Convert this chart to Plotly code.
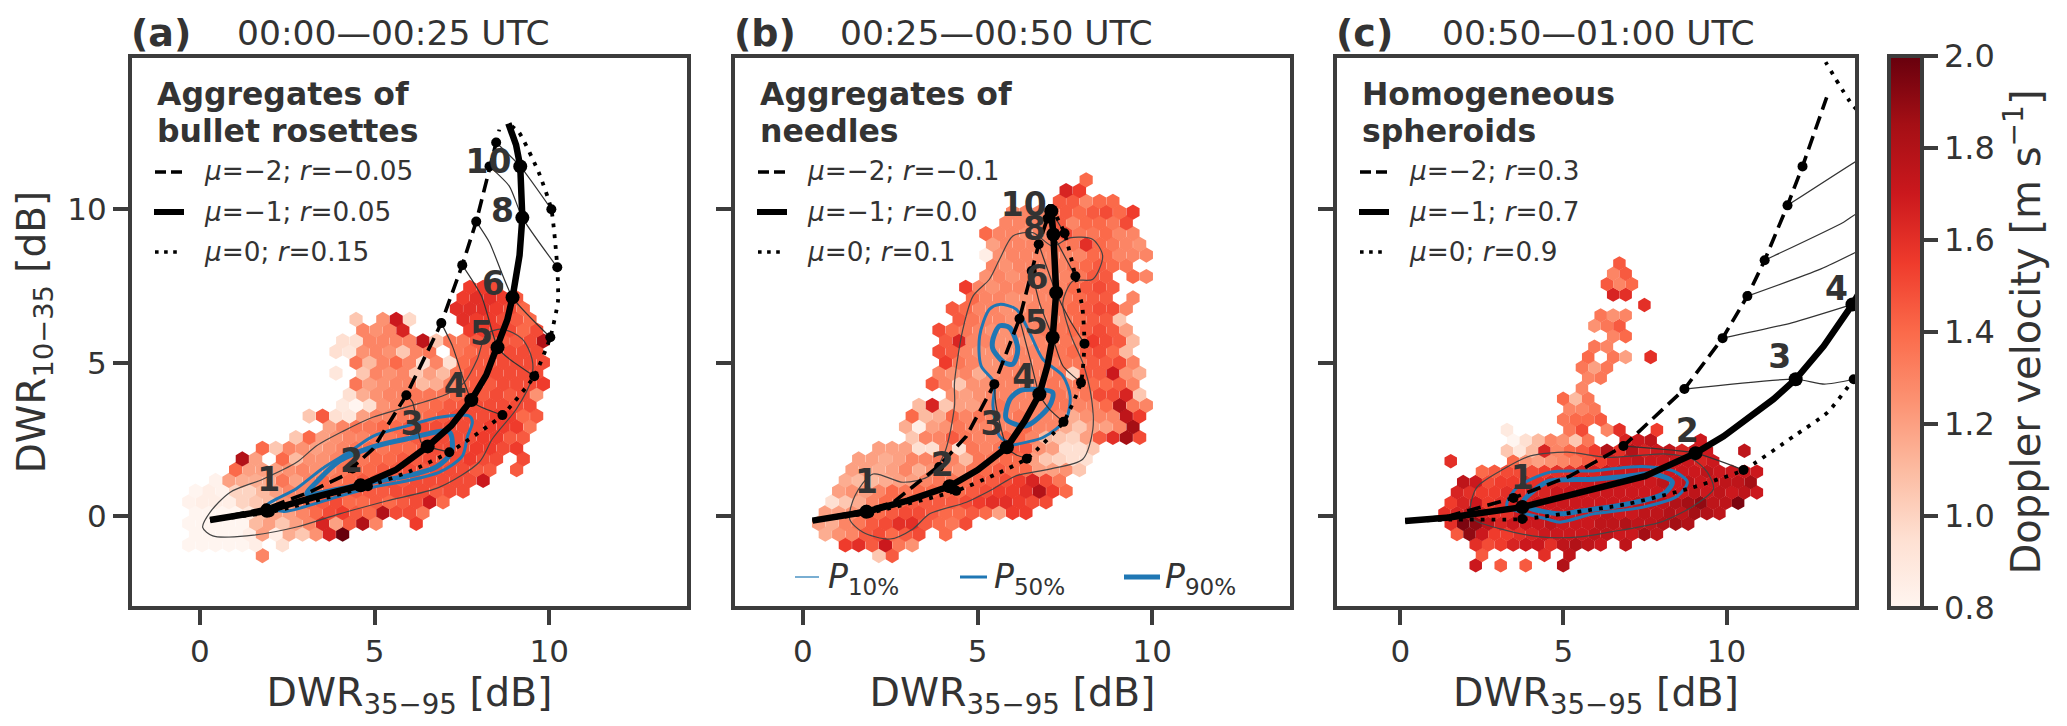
import plotly.graph_objects as go

N = None
COL_DX = 0.383
ROW_DY_AB = 0.35
ROW_DY_C = 0.3396

HEX_A = [
 (0,5,[1.3]),
 (1,0,[.8,.8,.8,.8,.8,.85,N,.95]),
 (2,0,[.8,.8,.8,.8,.85,1.2,.85,1.15,1.05,1.25,1.65,2.0]),
 (3,0,[.8,.8,.8,.8,.8,1.1,1.2,1.05,1.2,1.3,1.65,1.2,1.45,1.8,1.3,N,N,1.55]),
 (4,0,[.8,.8,.8,.8,.9,1.1,1.2,1.2,1.3,1.4,1.5,1.55,1.45,1.4,1.8,1.5,1.5,1.35]),
 (5,0,[.82,.85,.85,.85,1.0,1.05,1.1,1.25,1.3,1.4,1.45,1.5,1.4,1.4,1.45,1.4,1.45,1.5,1.7,1.4]),
 (6,0,[.8,.85,.82,1.0,1.0,1.1,1.2,1.3,1.3,1.35,1.4,1.4,1.45,1.45,1.45,1.5,1.5,1.5,1.45,1.5,1.5]),
 (7,2,[.82,1.2,1.15,1.15,1.15,1.35,1.2,1.3,1.4,1.35,1.4,1.45,1.45,1.5,1.45,1.5,1.5,1.5,1.5,1.5,1.7]),
 (8,3,[1.4,1.2,1.2,1.2,1.25,1.3,1.25,1.3,1.35,1.4,1.4,1.45,1.45,1.5,1.45,1.5,1.5,1.5,1.45,1.45,N,1.45]),
 (9,4,[1.8,1.2,N,1.4,1.1,1.25,1.25,1.3,1.35,1.35,1.4,1.4,1.45,1.45,1.5,1.45,1.5,1.55,1.5,1.5,N,1.5]),
 (10,5,[1.4,1.05,1.3,1.25,1.2,1.25,1.3,1.35,1.4,1.35,1.4,1.4,1.45,1.5,1.5,1.5,1.55,1.55,1.5,1.55]),
 (11,8,[1.05,1.4,1.2,1.25,1.3,1.3,1.35,1.35,1.4,1.45,1.45,1.5,1.5,1.5,1.55,1.55,1.45,1.45]),
 (12,10,[1.2,1.3,1.35,1.35,1.4,1.4,1.45,1.5,1.5,1.5,1.5,1.5,1.55,1.55,1.55,1.35]),
 (13,9,[1.05,1.45,.95,.9,1.2,1.3,1.3,1.35,1.35,1.4,1.45,1.5,1.5,1.5,1.55,1.55,1.4,1.45]),
 (14,11,[.88,.8,.95,1.25,1.3,1.35,1.35,1.4,1.45,1.45,1.5,1.5,1.5,1.5,1.5]),
 (15,12,[.95,1.15,1.25,1.3,1.3,1.35,1.35,1.35,1.4,1.45,1.45,1.5,1.45,1.5,1.25]),
 (16,12,[1.35,1.2,1.25,1.3,1.3,1.1,1.15,1.3,1.4,1.45,1.45,1.5,1.5,1.5,1.55]),
 (17,11,[.9,N,1.05,1.3,1.25,1.3,1.05,1.2,1.1,1.35,1.45,1.45,1.5,1.5,1.5,1.5]),
 (18,12,[1.35,1.1,1.3,1.4,1.3,.95,1.3,.95,1.4,1.45,1.45,1.5,1.5,1.5,1.5]),
 (19,11,[.95,.9,1.25,1.3,1.25,1.05,1.3,1.35,N,1.35,1.4,1.45,1.5,1.5,1.5,1.5]),
 (20,11,[.95,.95,1.3,1.3,1.3,1.3,1.75,1.05,1.35,1.35,1.45,1.45,1.45,1.45,1.5,1.8]),
 (21,13,[1.3,1.25,1.3,1.65,N,N,N,N,1.55,1.55,1.55,1.5,1.4,1.5]),
 (22,12,[1.05,N,1.25,1.7,.98,N,N,N,1.6,1.55,1.55,1.5,1.45,1.4]),
 (23,20,[1.6,1.6,1.6,1.55,1.5,1.4]),
 (24,20,[1.55,1.6,1.6,1.55,1.45]),
 (25,21,[1.55,1.55,1.5]),
]

HEX_B = [
 (0,6,[1.05,1.45]),
 (1,4,[1.55,1.6,1.45,1.7,1.35,1.25]),
 (2,2,[1.15,1.25,1.3,1.45,1.5,1.4,1.45,1.5,N,1.4]),
 (3,2,[1.2,1.15,1.3,1.35,1.45,1.5,1.6,1.6,1.45,1.4,1.35,1.5]),
 (4,2,[1.2,1.2,1.25,1.35,1.4,1.45,1.5,1.5,1.45,1.4,1.4,1.45,1.4,1.2,1.55,1.55]),
 (5,3,[.95,1.05,1.15,1.3,1.4,1.4,1.45,1.45,1.45,1.45,1.5,1.55,1.6,1.6,1.55,1.5,1.5]),
 (6,3,[1.2,1.25,1.2,1.3,1.4,1.35,1.4,1.4,1.4,1.4,1.45,1.5,1.55,1.55,1.6,1.8,1.55,1.4]),
 (7,4,[1.15,1.1,1.1,1.15,1.2,1.2,1.3,1.35,1.35,1.4,1.45,1.45,1.5,1.55,1.65,1.5,1.35]),
 (8,4,[1.2,1.2,1.15,1.2,1.3,1.15,1.25,1.3,1.25,1.35,1.4,1.45,1.4,1.4,1.2,1.2,1.25,1.05]),
 (9,5,[1.2,1.2,1.15,1.2,1.3,1.3,1.35,1.3,1.1,1.35,1.35,1.4,1.4,1.2,1.05,1.0,.95,.95]),
 (10,6,[1.2,1.2,1.2,.95,.95,1.3,.95,1.35,1.3,1.35,1.45,1.45,1.25,1.2,.95,.95,1.05]),
 (11,9,[1.05,1.3,1.3,1.45,1.35,1.3,1.3,1.4,1.4,1.3,1.1,1.05,1.0,1.2,1.45,1.6,1.85,1.5]),
 (12,8,[1.15,.85,1.2,1.25,1.35,1.3,1.3,1.3,1.3,1.4,1.3,1.3,1.15,1.05,1.2,1.2,1.3,1.85]),
 (13,9,[1.4,1.1,1.15,1.4,1.3,1.35,1.3,1.3,1.35,1.3,1.3,1.3,1.15,1.25,1.3,1.3,1.75,1.55]),
 (14,9,[1.1,1.65,1.05,1.2,1.2,1.3,1.35,1.3,1.3,1.3,1.35,1.35,1.3,1.3,1.4,1.8,1.35,1.3]),
 (15,12,[1.25,1.2,1.25,1.3,1.3,1.3,1.3,1.3,1.35,1.3,1.35,1.5,1.5,1.65,1.05]),
 (16,10,[1.45,1.3,1.05,1.25,1.25,1.3,1.3,1.3,1.3,1.35,1.3,1.35,1.4,1.4,1.45,1.3]),
 (17,11,[1.3,1.25,1.3,1.15,1.25,1.3,1.3,1.3,1.3,1.35,1.0,1.45,1.45,1.7,1.25,1.15]),
 (18,11,[1.55,1.35,1.3,1.25,1.25,1.3,1.3,1.3,1.3,1.35,1.35,1.45,1.45,1.5,1.3]),
 (19,11,[1.5,1.45,1.3,1.25,1.25,1.25,1.3,1.3,1.3,1.35,1.4,1.45,1.5,1.4,1.1]),
 (20,11,[1.45,1.65,1.3,1.3,1.25,1.25,1.25,1.3,1.3,1.35,1.35,1.55,1.5,1.45,1.1]),
 (21,11,[1.5,1.4,1.35,1.3,1.25,1.25,1.3,1.3,1.35,1.35,1.4,1.45,1.5,1.45,1.2]),
 (22,12,[1.45,1.35,1.3,1.3,1.25,1.3,1.3,1.3,1.35,1.4,1.45,1.45,1.05]),
 (23,12,[1.45,1.4,1.3,1.3,1.25,1.25,1.3,1.3,1.35,1.4,1.45,1.5,1.5,1.3]),
 (24,13,[1.4,1.3,1.3,1.25,1.25,1.3,1.3,1.35,1.4,1.45,1.45,N,1.3]),
 (25,13,[1.55,1.3,1.25,1.3,1.3,1.3,1.3,1.3,1.4,1.45,1.5,1.45]),
 (26,14,[1.25,1.3,1.25,1.3,1.3,1.3,1.3,1.35,1.45,1.45,N,1.4,1.3]),
 (27,15,[1.3,1.25,1.3,1.3,1.3,1.3,1.35,1.4,1.45,1.4,1.35]),
 (28,14,[.85,1.25,1.3,1.3,1.3,1.3,1.3,1.3,1.4,1.4,1.3,1.3,1.3]),
 (29,15,[1.2,1.3,1.3,1.3,1.3,1.35,1.35,1.6,1.4,1.35,1.3,1.25]),
 (30,14,[1.4,1.3,1.3,1.25,1.3,1.3,1.5,1.35,1.35,1.4,1.3,1.3]),
 (31,16,[1.3,1.3,1.3,1.35,1.45,1.3,1.4,1.4,1.35,1.5]),
 (32,16,[1.3,1.3,1.3,1.35,1.45,1.4,1.45,1.5,1.4,1.55]),
 (33,20,[1.45,1.45,1.3,1.4,1.4]),
 (34,20,[1.65,1.55]),
 (35,22,[1.4]),
]

HEX_C = [
 (-1,6,[1.7,N,1.45,N,1.45,N,N,1.8]),
 (0,6,[1.45,N,N,N,N,1.6,N,1.75]),
 (1,6,[1.6,1.5,1.55,1.65,1.7,1.7,1.6,1.75,1.8,1.75,1.7,N,1.75]),
 (2,4,[1.45,1.9,1.7,1.55,1.55,1.6,1.65,1.7,1.7,1.7,1.7,1.75,1.75,1.7,1.7,1.85,1.75]),
 (3,4,[1.6,1.95,1.9,1.75,1.65,1.7,1.7,1.7,1.75,1.7,1.7,1.7,1.75,1.75,1.8,1.75,1.75,1.8,1.85,1.8]),
 (4,3,[1.6,1.65,1.75,1.65,1.6,1.6,1.7,1.7,1.7,1.7,1.7,1.7,1.7,1.75,1.7,1.7,1.75,1.75,1.8,1.75,1.85,1.8,1.75]),
 (5,4,[1.55,1.65,1.7,1.55,1.6,1.65,1.65,1.7,1.7,1.7,1.7,1.7,1.7,1.7,1.7,1.75,1.75,1.75,1.8,1.85,1.9,1.75,1.75,1.95]),
 (6,4,[1.65,1.6,1.55,1.55,1.6,1.6,1.65,1.65,1.7,1.7,1.7,1.7,1.7,1.7,1.7,1.7,1.7,1.7,1.7,1.75,1.7,1.75,1.7,1.75,1.7]),
 (7,5,[1.75,1.7,1.5,1.55,1.55,1.6,1.6,1.65,1.65,1.7,1.7,1.7,1.7,1.7,1.7,1.7,1.75,1.7,1.75,1.7,1.7,1.75,1.75,1.85]),
 (8,6,[1.4,1.45,1.5,1.5,1.5,1.55,1.6,1.6,1.65,1.65,1.7,1.7,1.7,1.7,1.65,1.7,1.7,1.7,1.75,1.7,1.7,1.7,1.7]),
 (9,4,[1.6,N,N,N,N,1.4,1.25,1.2,1.25,1.3,1.35,1.45,1.55,1.65,1.7,1.75,1.7,1.7,1.7,1.7,1.65,1.7]),
 (10,8,[1.05,.9,1.1,1.65,1.3,1.4,1.45,1.55,1.8,1.6,1.8,1.65,1.7,1.75,1.65,1.7,1.7,N,N,1.75]),
 (11,9,[.8,.95,1.1,1.3,1.25,1.05,1.35,N,N,1.65,1.7,1.75,N,N,N,1.7]),
 (12,8,[.88,N,N,N,N,1.35,1.5,N,1.3,1.6,N,N,1.55]),
 (13,13,[1.35,1.4,1.4,1.45]),
 (14,13,[1.3,1.3,1.35]),
 (15,13,[1.4,1.1,1.35]),
 (16,14,[1.3]),
 (17,15,[1.3,1.35]),
 (18,14,[1.35,1.2,1.35]),
 (19,15,[1.4,N,1.35,1.2,N,1.6]),
 (20,15,[1.35,1.3]),
 (21,17,[1.3,1.4]),
 (22,15,[1.25,1.35,1.45]),
 (23,16,[1.35,1.25,1.3]),
 (24,19,[1.6]),
 (25,17,[1.65,1.6]),
 (26,16,[1.45,1.3,1.4]),
 (27,17,[1.3,1.45]),
 (28,17,[1.45]),
]

# Panel (a) curves
A_SOLID_X = [.29,1.92,3.3,4.6,5.6,6.52,7.2,7.77,8.2,8.52,8.8,8.95,9.15,9.23,9.22,9.17,9.05,8.83]
A_SOLID_Y = [-.13,.17,.62,1.0,1.5,2.27,2.95,3.78,4.6,5.5,6.4,7.13,8.5,9.73,10.6,11.4,12.1,12.8]
A_SOLID_MX = [1.92,4.6,6.52,7.77,8.52,8.95,9.23,9.17]
A_SOLID_MY = [.17,1.0,2.27,3.78,5.5,7.13,9.73,11.4]
A_DASH_X = [.29,1.9,3.14,4.09,4.95,5.91,6.91,7.51,7.91,8.29,8.48,8.57]
A_DASH_Y = [-.13,.25,.78,1.3,2.18,3.94,6.29,8.18,9.6,11.4,12.18,12.6]
A_DASH_MX = [1.9,4.37,5.91,6.91,7.51,7.91,8.29,8.48]
A_DASH_MY = [.25,1.55,3.94,6.29,8.18,9.6,11.4,12.18]
A_DOT_X = [.29,2.0,4.81,6.0,7.14,8.66,9.57,10.03,10.25,10.23,10.06,9.7,9.14,8.83]
A_DOT_Y = [-.13,.12,.97,1.45,2.08,3.29,4.56,5.83,7.0,8.11,10.0,11.2,12.5,12.8]
A_DOT_MX = [2.0,4.81,7.14,8.66,9.57,10.03,10.23,10.06]
A_DOT_MY = [.12,.97,2.08,3.29,4.56,5.83,8.11,10.0]
A_THIN = [
 ([5.91,6.09,6.33,6.52,7.14],[3.94,3.71,2.41,2.27,2.08]),
 ([6.91,7.23,7.57,7.77,8.0,8.66],[6.29,5.54,4.36,3.78,3.58,3.29]),
 ([7.51,8.06,8.52,8.77,9.57],[8.18,7.17,5.5,5.2,4.56]),
 ([7.91,8.29,8.95,10.03],[9.6,8.92,7.13,5.83]),
 ([8.29,8.86,9.23,10.23],[11.4,10.75,9.73,8.11]),
 ([8.48,9.17,10.06],[12.18,11.4,10.0]),
]
A_P10_X = [.08,.29,.86,1.8,2.77,3.34,4.09,4.95,5.91,7.06,7.57,7.94,8.2,8.66,9.23,9.51,9.49,9.06,8.37,8.0,6.86,5.34,4.0,2.77,1.34,.37,.08]
A_P10_Y = [-.37,.12,.77,1.2,1.75,2.29,2.76,3.22,3.55,3.97,4.36,5.11,5.93,6.09,5.77,5.11,4.46,3.49,2.51,1.76,.94,.49,.07,-.36,-.65,-.65,-.37]
A_P50_X = [1.91,2.77,3.51,4.29,4.95,5.91,6.86,7.71,7.8,7.66,7.51,6.86,5.91,4.95,4.0,3.0,2.4,1.91]
A_P50_Y = [.33,.9,1.55,2.1,2.6,2.93,3.22,3.26,3.06,2.6,1.95,1.43,1.14,.94,.65,.3,.15,.33]
A_P90_X = [3.06,3.34,4.0,4.95,5.91,7.14,7.2,6.77,5.91,4.95,4.0,3.06]
A_P90_Y = [.72,1.11,1.8,2.25,2.51,2.74,2.08,1.6,1.3,1.11,.88,.72]
A_NUM = ["1","2","3","4","5","6","8","10"]
A_NUM_X = [1.97,4.34,6.07,7.31,8.06,8.4,8.66,8.26]
A_NUM_Y = [1.07,1.69,2.9,4.14,5.86,7.46,9.84,11.47]

# Panel (b) curves
B_SOLID_X = [.276,1.82,3.0,4.2,5.0,5.84,6.35,6.77,7.0,7.15,7.25,7.22,7.17,7.11,7.08]
B_SOLID_Y = [-.15,.14,.5,.97,1.5,2.24,3.1,3.97,4.9,5.82,7.28,8.3,9.18,9.94,10.16]
B_SOLID_MX = [1.82,4.2,5.84,6.77,7.15,7.25,7.17,7.11]
B_SOLID_MY = [.14,.97,2.24,3.97,5.82,7.28,9.18,9.94]
B_DASH_X = [.276,1.82,2.58,3.06,3.9,4.68,5.48,6.2,6.55,6.75,7.0,7.08]
B_DASH_Y = [-.15,.2,.44,.88,1.64,2.6,4.3,6.43,7.99,8.86,9.7,10.16]
B_DASH_MX = [1.82,3.9,5.48,6.2,6.55,6.75,7.0,7.08]
B_DASH_MY = [.2,1.6,4.3,6.43,7.99,8.86,9.7,10.0]
B_DOT_X = [.276,1.9,4.39,5.5,6.41,7.46,7.96,8.06,8.0,7.8,7.49,7.08]
B_DOT_Y = [-.15,.1,.82,1.35,1.87,3.07,4.35,5.62,6.8,7.82,9.22,10.16]
B_DOT_MX = [1.9,4.39,6.41,7.46,7.96,8.06,7.8,7.49]
B_DOT_MY = [.1,.82,1.87,3.07,4.35,5.62,7.82,9.22]
B_THIN = [
 ([5.48,5.53,5.84,6.1,6.41],[4.3,3.6,2.24,2.0,1.87]),
 ([6.2,6.53,6.77,7.06,7.46],[6.43,5.0,3.97,3.48,3.07]),
 ([6.55,6.77,7.15,7.44,7.96],[7.99,6.96,5.82,4.9,4.35]),
 ([6.75,7.25,7.63,8.06],[8.86,7.28,6.41,5.62]),
 ([7.0,7.17,7.8],[9.7,9.18,7.82]),
 ([7.08,7.11,7.49],[10.0,9.94,9.22]),
]
B_P10_X = [1.34,1.49,2.01,2.87,3.63,4.06,4.34,4.34,4.58,4.87,5.34,5.63,6.01,6.58,7.15,7.63,8.3,8.58,8.3,7.73,7.44,7.68,8.01,8.25,8.3,8.01,7.06,6.1,5.44,4.68,3.63,3.15,2.49,1.72,1.34]
B_P10_Y = [-.1,.66,1.37,1.1,1.31,2.07,3.59,4.35,6.09,7.17,7.72,8.37,9.13,9.24,8.8,9.07,9.02,8.48,7.72,7.66,6.96,5.87,5.0,3.92,2.83,1.85,1.53,1.31,.88,.45,.07,-.42,-.75,-.53,-.1]
B_P50_X = [5.63,6.11,6.49,6.87,7.44,7.65,7.53,6.87,5.63,6.0,5.63,5.44,5.48,5.1,5.06,5.34,5.63]
B_P50_Y = [6.9,6.74,5.98,5.11,4.57,3.92,3.16,2.56,2.23,2.29,2.6,3.6,4.35,4.9,5.87,6.74,6.9]
B_P90A_X = [5.63,5.92,6.15,6.01,5.77,5.44,5.44,5.63]
B_P90A_Y = [6.2,6.14,5.44,4.95,5.0,5.44,5.77,6.2]
B_P90B_X = [6.58,7.15,7.06,6.39,5.82,5.92,6.2,6.58]
B_P90B_Y = [4.13,4.02,3.59,2.94,3.16,3.8,4.08,4.13]
B_NUM = ["1","2","3","4","5","6","8","10"]
B_NUM_X = [1.82,3.99,5.41,6.32,6.68,6.7,6.63,6.32]
B_NUM_Y = [1.02,1.58,2.92,4.44,6.2,7.66,9.26,10.05]

# Panel (c) curves
C_SOLID_X = [.15,1.5,3.74,5.5,7.5,9.05,9.91,11.44,12.12,12.98,13.86,14.4]
C_SOLID_Y = [-.16,-.05,.29,.75,1.3,2.05,2.6,3.81,4.46,5.54,6.9,7.9]
C_SOLID_MX = [3.74,9.05,12.12,13.86]
C_SOLID_MY = [.29,2.05,4.46,6.9]
C_DASH_X = [.15,1.5,3.47,5.2,6.84,8.71,9.88,10.64,11.17,11.87,12.33,13.07]
C_DASH_Y = [-.16,0,.59,1.3,2.28,4.14,5.8,7.17,8.34,10.13,11.4,13.65]
C_DASH_MX = [3.47,6.84,8.71,9.88,10.64,11.17,11.87,12.33]
C_DASH_MY = [.59,2.28,4.14,5.8,7.17,8.34,10.13,11.4]
C_DOT_X = [.15,1.5,3.74,6.96,8.8,10.52,12.06,13.1,13.9,14.9,15.5,15.0,13.9,13.04]
C_DOT_Y = [-.16,-.12,-.1,.39,.88,1.5,2.6,3.38,4.46,6.0,10.0,12.4,13.35,14.8]
C_DOT_MX = [3.74,10.52,13.9]
C_DOT_MY = [-.1,1.5,4.46]
C_THIN = [
 ([3.47,3.74,3.74],[.59,.29,-.1]),
 ([6.84,9.05,10.52],[2.28,2.05,1.5]),
 ([8.71,12.12,13.0,13.9],[4.14,4.46,4.3,4.46]),
 ([9.88,12.0,13.86],[5.8,6.3,6.9]),
 ([10.64,12.88,13.96,14.5],[7.17,8.05,8.6,8.9]),
 ([11.17,13.59,13.96,14.5],[8.34,9.58,9.84,10.1]),
 ([11.87,13.96,14.5],[10.13,11.56,11.9]),
]
C_P10_X = [2.15,2.35,3.17,3.99,5.12,6.34,7.36,8.18,8.95,9.41,9.6,8.99,7.98,6.44,5.52,4.29,3.07,2.24,2.15]
C_P10_Y = [.29,.94,1.53,1.96,2.08,1.91,1.98,2.02,1.86,1.43,.88,.33,-.2,-.52,-.68,-.68,-.42,-.1,.29]
C_P50_X = [3.28,3.59,4.6,5.92,7.06,7.67,8.37,8.8,8.5,7.45,5.92,4.9,4.5,3.68,3.28,3.28]
C_P50_Y = [.46,.94,1.43,1.47,1.6,1.6,1.47,1.11,.65,.29,.07,-.2,-.1,.13,.29,.46]
C_P90_X = [3.77,4.5,5.92,6.96,7.76,8.34,8.07,6.96,5.52,4.9,3.9,3.77]
C_P90_Y = [.46,1.11,1.2,1.3,1.37,1.11,.72,.39,.16,.07,.29,.46]
C_NUM = ["1","2","3","4"]
C_NUM_X = [3.74,8.8,11.63,13.37]
C_NUM_Y = [1.14,2.67,5.11,7.3]

TITLES = ["00:00—00:25 UTC","00:25—00:50 UTC","00:50—01:00 UTC"]
LETTERS = ["(a)","(b)","(c)"]
SPECIES = [["Aggregates of","bullet rosettes"],["Aggregates of","needles"],["Homogeneous","spheroids"]]
LEG_A = ["<i>μ</i>=−2; <i>r</i>=−0.05","<i>μ</i>=−1; <i>r</i>=0.05","<i>μ</i>=0; <i>r</i>=0.15"]
LEG_B = ["<i>μ</i>=−2; <i>r</i>=−0.1","<i>μ</i>=−1; <i>r</i>=0.0","<i>μ</i>=0; <i>r</i>=0.1"]
LEG_C = ["<i>μ</i>=−2; <i>r</i>=0.3","<i>μ</i>=−1; <i>r</i>=0.7","<i>μ</i>=0; <i>r</i>=0.9"]
X_TICKS = [0,5,10]
Y_TICKS = [0,5,10]
CB_TICKS = [0.8,1.0,1.2,1.4,1.6,1.8,2.0]
X_RANGE = [-2,14]
Y_RANGE = [-3,15]

W, H = 2067, 726
PANELS = [(130,689),(733,1292),(1335,1857)]
TOP, BOT = 56, 608
INSET = 2.0
INK = "#333333"
FRAME = "#3c3c3c"
BLUE = "#1f77b4"
FONT = "DejaVu Sans"

def px(v): return v/W
def py(v): return 1-v/H

def hex_xy(rows, x_even, x_odd, y0, dy):
    xs, ys, vs = [], [], []
    for row, k0, vals in rows:
        for i, v in enumerate(vals):
            if v is None: continue
            base = x_odd if row % 2 else x_even
            xs.append(base + COL_DX*(k0+i))
            ys.append(y0 + dy*row)
            vs.append(v)
    return xs, ys, vs

fig = go.Figure()
layout = dict(width=W, height=H, margin=dict(l=0,r=0,t=0,b=0), paper_bgcolor="white", plot_bgcolor="white",
              showlegend=False, font=dict(family=FONT,color=INK),
              coloraxis=dict(colorscale="Reds",cmin=.8,cmax=2.0,
                colorbar=dict(x=px(1889),xanchor="left",y=py(TOP),yanchor="top",len=(BOT-TOP)/H,lenmode="fraction",
                   thickness=33,thicknessmode="pixels",xpad=0,ypad=0,outlinewidth=4,outlinecolor=FRAME,
                   tickvals=CB_TICKS,ticktext=[f"{t:.1f}" for t in CB_TICKS],ticks="outside",ticklen=14,tickwidth=4,tickcolor=FRAME,
                   tickfont=dict(size=32,color=INK,family=FONT),
                   title=dict(text="Doppler velocity [m s<sup>−1</sup>]",side="right",font=dict(size=40,color=INK,family=FONT)))))

yscale = (BOT-TOP)/(Y_RANGE[1]-Y_RANGE[0])
for i,(l,r) in enumerate(PANELS):
    s = "" if i==0 else str(i+1)
    xscale = (r-l)/(X_RANGE[1]-X_RANGE[0])
    layout["xaxis"+s] = dict(domain=[px(l+INSET),px(r-INSET)],range=[X_RANGE[0]+INSET/xscale,X_RANGE[1]-INSET/xscale],anchor="y"+s,showgrid=False,zeroline=False,
        showline=True,mirror=True,linewidth=4,linecolor=FRAME,ticks="outside",ticklen=15,tickwidth=4,tickcolor=FRAME,
        tickvals=X_TICKS,tickfont=dict(size=31,color=INK,family=FONT),
        title=dict(text="DWR<sub>35−95</sub> [dB]",font=dict(size=39.5,color=INK,family=FONT),standoff=4))
    layout["yaxis"+s] = dict(domain=[py(BOT-INSET),py(TOP+INSET)],range=[Y_RANGE[0]+INSET/yscale,Y_RANGE[1]-INSET/yscale],anchor="x"+s,showgrid=False,zeroline=False,
        showline=True,mirror=True,linewidth=4,linecolor=FRAME,ticks="outside",ticklen=15,tickwidth=4,tickcolor=FRAME,
        tickvals=Y_TICKS,showticklabels=(i==0),tickfont=dict(size=31,color=INK,family=FONT))
    if i==0:
        layout["yaxis"]["title"]=dict(text="DWR<sub>10−35</sub> [dB]",font=dict(size=39,color=INK,family=FONT),standoff=11)

def add_panel(idx, hexes, hexsize, curves, thin, contours, nums):
    s = "" if idx==0 else str(idx+1)
    xa, ya = "x"+s, "y"+s
    hx, hy, hv = hexes
    fig.add_trace(go.Scatter(x=hx,y=hy,mode="markers",xaxis=xa,yaxis=ya,
        marker=dict(symbol="hexagon",size=hexsize,color=hv,coloraxis="coloraxis",line=dict(width=0))))
    for cx,cy,w,col in contours:
        fig.add_trace(go.Scatter(x=cx,y=cy,mode="lines",xaxis=xa,yaxis=ya,line=dict(color=col,width=w,shape="spline",smoothing=0.8)))
    for tx,ty in thin:
        fig.add_trace(go.Scatter(x=tx,y=ty,mode="lines",xaxis=xa,yaxis=ya,line=dict(color="#333333",width=1.2,shape="spline",smoothing=0.6)))
    (sx,sy,smx,smy),(dx,dy,dmx,dmy),(ox,oy,omx,omy) = curves
    fig.add_trace(go.Scatter(x=dx,y=dy,mode="lines",xaxis=xa,yaxis=ya,line=dict(color="black",width=3.6,dash="14px,7px")))
    fig.add_trace(go.Scatter(x=ox,y=oy,mode="lines",xaxis=xa,yaxis=ya,line=dict(color="black",width=3.8,dash="3.8px,7px",shape="spline",smoothing=0.5)))
    fig.add_trace(go.Scatter(x=sx,y=sy,mode="lines",xaxis=xa,yaxis=ya,line=dict(color="black",width=6.5)))
    fig.add_trace(go.Scatter(x=dmx,y=dmy,mode="markers",xaxis=xa,yaxis=ya,marker=dict(color="black",size=10)))
    fig.add_trace(go.Scatter(x=omx,y=omy,mode="markers",xaxis=xa,yaxis=ya,marker=dict(color="black",size=10)))
    fig.add_trace(go.Scatter(x=smx,y=smy,mode="markers",xaxis=xa,yaxis=ya,marker=dict(color="black",size=14)))
    tn,tx,ty = nums
    fig.add_trace(go.Scatter(x=tx,y=ty,mode="text",text=[f"<b>{t}</b>" for t in tn],xaxis=xa,yaxis=ya,
        textposition="middle center",textfont=dict(size=33,color=INK,family=FONT)))

add_panel(0, hex_xy(HEX_A,-.126,-.318,-1.29,ROW_DY_AB), 15.2,
  ((A_SOLID_X,A_SOLID_Y,A_SOLID_MX,A_SOLID_MY),(A_DASH_X,A_DASH_Y,A_DASH_MX,A_DASH_MY),(A_DOT_X,A_DOT_Y,A_DOT_MX,A_DOT_MY)),
  A_THIN, [(A_P10_X,A_P10_Y,1.2,"#444444"),(A_P50_X,A_P50_Y,3,BLUE),(A_P90_X,A_P90_Y,5,BLUE)], (A_NUM,A_NUM_X,A_NUM_Y))
add_panel(1, hex_xy(HEX_B,-.126,-.318,-1.29,ROW_DY_AB), 15.2,
  ((B_SOLID_X,B_SOLID_Y,B_SOLID_MX,B_SOLID_MY),(B_DASH_X,B_DASH_Y,B_DASH_MX,B_DASH_MY),(B_DOT_X,B_DOT_Y,B_DOT_MX,B_DOT_MY)),
  B_THIN, [(B_P10_X,B_P10_Y,1.2,"#444444"),(B_P50_X,B_P50_Y,3,BLUE),(B_P90A_X,B_P90A_Y,5,BLUE),(B_P90B_X,B_P90B_Y,5,BLUE)], (B_NUM,B_NUM_X,B_NUM_Y))
add_panel(2, hex_xy(HEX_C,.207,.0155,-1.27,ROW_DY_C), 14.4,
  ((C_SOLID_X,C_SOLID_Y,C_SOLID_MX,C_SOLID_MY),(C_DASH_X,C_DASH_Y,C_DASH_MX,C_DASH_MY),(C_DOT_X,C_DOT_Y,C_DOT_MX,C_DOT_MY)),
  C_THIN, [(C_P10_X,C_P10_Y,1.2,"#444444"),(C_P50_X,C_P50_Y,3,BLUE),(C_P90_X,C_P90_Y,5,BLUE)], (C_NUM,C_NUM_X,C_NUM_Y))

annos, shapes = [], []
def note(x,y,text,size,anchor="left"):
    annos.append(dict(x=px(x),y=py(y),xref="paper",yref="paper",text=text,showarrow=False,xanchor=anchor,yanchor="middle",
                      font=dict(size=size,color=INK,family=FONT),align="left",borderpad=0))
def seg(x0,x1,y,w,dash=None,col="black"):
    shapes.append(dict(type="line",xref="paper",yref="paper",x0=px(x0),x1=px(x1),y0=py(y),y1=py(y),line=dict(color=col,width=w,dash=dash)))

TITLE_OFFS = [236,839,1441]
for i,(l,r) in enumerate(PANELS):
    note(l,33,f"<b>{LETTERS[i]}</b>",38)
    note(TITLE_OFFS[i],33,TITLES[i],34.5)
    note(l+26,94,f"<b>{SPECIES[i][0]}</b>",31.5)
    note(l+26,131,f"<b>{SPECIES[i][1]}</b>",31.5)
    legs = [LEG_A,LEG_B,LEG_C][i]
    for t,y in zip(legs,[171,212,252]):
        note(l+73,y,t,26.3)
    seg(l+25,l+52,172,3.6,"11px,5px")
    seg(l+24,l+54,212,6)
    seg(l+25,l+52,252,3.6,"3.6px,5.5px")

for x0,x1,xt,w,lab in [(795,819,827,1.2,"10%"),(960,987,993,3,"50%"),(1124,1160,1164,5,"90%")]:
    seg(x0,x1,577,w,None,BLUE)
    note(xt,578,f"<i>P</i><sub>{lab}</sub>",33)

layout["annotations"]=annos
layout["shapes"]=shapes
fig.update_layout(**layout)
fig.write_html("out.html",config={"displayModeBar":False},post_script="document.body.style.margin='0';document.body.style.overflow='hidden';")
